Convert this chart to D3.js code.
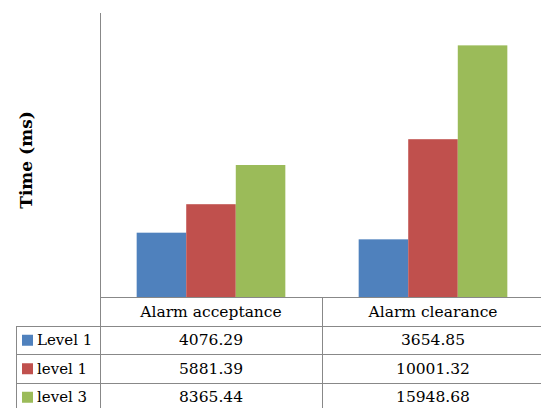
<!DOCTYPE html>
<html>
<head>
<meta charset="utf-8">
<script src="https://cdnjs.cloudflare.com/ajax/libs/d3/7.8.5/d3.min.js"></script>
<style>
  body { margin: 0; background: #fff; }
  svg { display: block; }
  text { font-family: "DejaVu Serif", serif; fill: #000; }
</style>
</head>
<body>
<svg id="chart" width="541" height="408"></svg>
<script>
// chart data
const categories = ['Alarm acceptance', 'Alarm clearance'];
const seriesNames = ['Level 1', 'level 1', 'level 3'];
const seriesColors = ['#4F81BD', '#C0504D', '#9BBB59'];
const seriesValues = [
  [4076.29, 3654.85],
  [5881.39, 10001.32],
  [8365.44, 15948.68]
];
const valueLabels = [
  ['4076.29', '3654.85'],
  ['5881.39', '10001.32'],
  ['8365.44', '15948.68']
];
const yTitle = 'Time (ms)';

const svg = d3.select('#chart');

const plotLeft = 100, plotRight = 544, plotTop = 13, plotBottom = 297;
const rowH = 28.5;
const tableLeft = 16;

// scales
const x = d3.scaleBand().domain(categories).range([plotLeft, plotRight]);
const xs = d3.scaleBand().domain(d3.range(seriesNames.length)).range([0, x.bandwidth()]).paddingInner(0).paddingOuter(0.74);
const y = d3.scaleLinear().domain([0, 18000]).range([plotBottom, plotTop]);

// bars
const groups = svg.append('g').selectAll('g')
  .data(seriesValues)
  .join('g')
  .attr('fill', (d, i) => seriesColors[i]);

groups.each(function(vals, si) {
  d3.select(this).selectAll('rect')
    .data(vals)
    .join('rect')
    .attr('x', (d, ci) => x(categories[ci]) + xs(si))
    .attr('width', xs.bandwidth())
    .attr('y', d => y(d))
    .attr('height', d => y(0) - y(d));
});

// value axis (line only)
svg.append('line')
  .attr('x1', plotLeft + 0.5).attr('x2', plotLeft + 0.5)
  .attr('y1', plotTop).attr('y2', plotBottom)
  .attr('stroke', '#888').attr('stroke-width', 1);

// y title
svg.append('text')
  .attr('transform', `translate(32,160) rotate(-90)`)
  .attr('text-anchor', 'middle')
  .style('font-size', '17px')
  .style('font-weight', 'bold')
  .text(yTitle);

// data table
const table = svg.append('g');
const lineColor = '#888';
const nRows = seriesNames.length;

// horizontal lines
table.append('line')
  .attr('x1', plotLeft).attr('x2', 541)
  .attr('y1', plotBottom + 0.5).attr('y2', plotBottom + 0.5)
  .attr('stroke', lineColor);
for (let r = 0; r <= nRows; r++) {
  const yy = Math.round(plotBottom + rowH * (r + 1)) + 0.5;
  table.append('line')
    .attr('x1', tableLeft).attr('x2', 541)
    .attr('y1', yy).attr('y2', yy)
    .attr('stroke', lineColor);
}
// vertical lines
table.append('line')
  .attr('x1', tableLeft + 0.5).attr('x2', tableLeft + 0.5)
  .attr('y1', Math.round(plotBottom + rowH)).attr('y2', 408)
  .attr('stroke', lineColor);
[plotLeft, x(categories[1])].forEach(vx => {
  table.append('line')
    .attr('x1', vx + 0.5).attr('x2', vx + 0.5)
    .attr('y1', plotBottom).attr('y2', 408)
    .attr('stroke', lineColor);
});

// header text
table.selectAll('text.cat')
  .data(categories)
  .join('text')
  .attr('class', 'cat')
  .attr('x', d => x(d) + x.bandwidth() / 2)
  .attr('y', plotBottom + rowH / 2 + 5.5)
  .attr('text-anchor', 'middle')
  .style('font-size', '15.5px')
  .text(d => d);

// rows
seriesNames.forEach((name, si) => {
  const cy = plotBottom + rowH * (si + 1) + rowH / 2;
  table.append('rect')
    .attr('x', 22).attr('y', cy - 5)
    .attr('width', 11).attr('height', 11)
    .attr('fill', seriesColors[si]);
  table.append('text')
    .attr('x', 37).attr('y', cy + 5.5)
    .style('font-size', '15px')
    .text(name);
  valueLabels[si].forEach((v, ci) => {
    table.append('text')
      .attr('x', x(categories[ci]) + x.bandwidth() / 2)
      .attr('y', cy + 5.5)
      .attr('text-anchor', 'middle')
      .style('font-size', '15.5px')
      .text(v);
  });
});
</script>
</body>
</html>
